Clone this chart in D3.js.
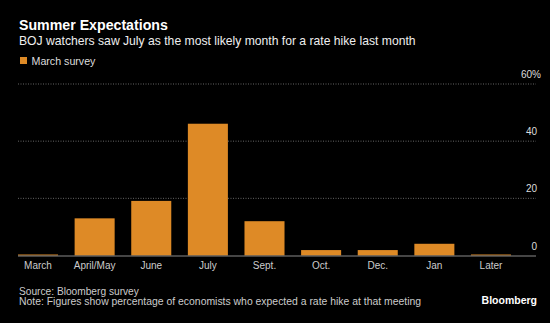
<!DOCTYPE html>
<html><head><meta charset="utf-8">
<script src="https://cdn.jsdelivr.net/npm/d3@7/dist/d3.min.js"></script>
<style>body{margin:0;background:#000;}svg{display:block;}</style>
</head><body>
<script>
const categories = ["March","April/May","June","July","Sept.","Oct.","Dec.","Jan","Later"];
const values = [0.3, 13.0, 19.1, 46.1, 12.0, 1.9, 1.9, 4.1, 0.3];
const yTicks = [0, 20, 40, 60];
const seriesName = "March survey";

const W = 550, H = 323;
const svg = d3.select("body").append("svg").attr("width", W).attr("height", H)
  .style("background", "#000");
const font = "'Liberation Sans', Arial, sans-serif";

function fit(sel, target) {
  const w = sel.node().getComputedTextLength();
  const fs = parseFloat(sel.attr("font-size"));
  sel.attr("font-size", (fs * target / w).toFixed(2));
}

const x = d3.scaleBand().domain(categories).range([18, 511]).paddingInner(0.293).paddingOuter(0);
const y = d3.scaleLinear().domain([0, 60]).range([255.5, 84]);

// gridlines
svg.append("g").selectAll("line").data(yTicks.filter(d => d > 0)).join("line")
  .attr("x1", 18).attr("x2", 536).attr("y1", d => y(d)).attr("y2", d => y(d))
  .attr("stroke", "#666").attr("stroke-width", 1).attr("stroke-dasharray", "1,1.5");

// y labels
svg.append("g").selectAll("text").data(yTicks).join("text")
  .attr("x", d => d === 60 ? 541 : 537).attr("y", d => y(d) - 6)
  .attr("text-anchor", "end").attr("fill", "#ddd").attr("font-family", font).attr("font-size", 10)
  .text(d => d === 60 ? d + "%" : d);

// bars
svg.append("g").selectAll("rect").data(values).join("rect")
  .attr("x", (d, i) => x(categories[i]))
  .attr("width", x.bandwidth())
  .attr("y", d => Math.min(y(d), y(0) - 1))
  .attr("height", d => Math.max(1, y(0) - y(d)))
  .attr("fill", "#DE8A26");

// baseline
svg.append("line").attr("x1", 18).attr("x2", 536).attr("y1", y(0) + 0.5).attr("y2", y(0) + 0.5)
  .attr("stroke", "#8a8a8a").attr("stroke-width", 1);

// x labels
svg.append("g").selectAll("text").data(categories).join("text")
  .attr("x", d => x(d) + x.bandwidth() / 2).attr("y", 269)
  .attr("text-anchor", "middle").attr("fill", "#ccc").attr("font-family", font).attr("font-size", 10)
  .text(d => d);

// title
const t = svg.append("text").attr("x", 19).attr("y", 30).attr("fill", "#fff")
  .attr("font-family", font).attr("font-weight", "bold").attr("font-size", 14).text("Summer Expectations");
fit(t, 149);
const st = svg.append("text").attr("x", 19).attr("y", 44.5).attr("fill", "#eee")
  .attr("font-family", font).attr("font-size", 12).text("BOJ watchers saw July as the most likely month for a rate hike last month");
fit(st, 397);

// legend
svg.append("rect").attr("x", 20).attr("y", 57).attr("width", 7).attr("height", 7).attr("fill", "#DE8A26");
const lg = svg.append("text").attr("x", 31.5).attr("y", 65).attr("fill", "#ddd")
  .attr("font-family", font).attr("font-size", 10).text(seriesName);
fit(lg, 64);

// footer
const s1 = svg.append("text").attr("x", 19).attr("y", 294.5).attr("fill", "#ccc")
  .attr("font-family", font).attr("font-size", 10).text("Source: Bloomberg survey");
fit(s1, 120);
const s2 = svg.append("text").attr("x", 19).attr("y", 305).attr("fill", "#ccc")
  .attr("font-family", font).attr("font-size", 10).text("Note: Figures show percentage of economists who expected a rate hike at that meeting");
fit(s2, 402);
svg.append("text").attr("x", 537).attr("y", 304).attr("text-anchor", "end").attr("fill", "#fff")
  .attr("font-family", font).attr("font-weight", "bold").attr("font-size", 10.5).text("Bloomberg");
</script>
</body></html>
